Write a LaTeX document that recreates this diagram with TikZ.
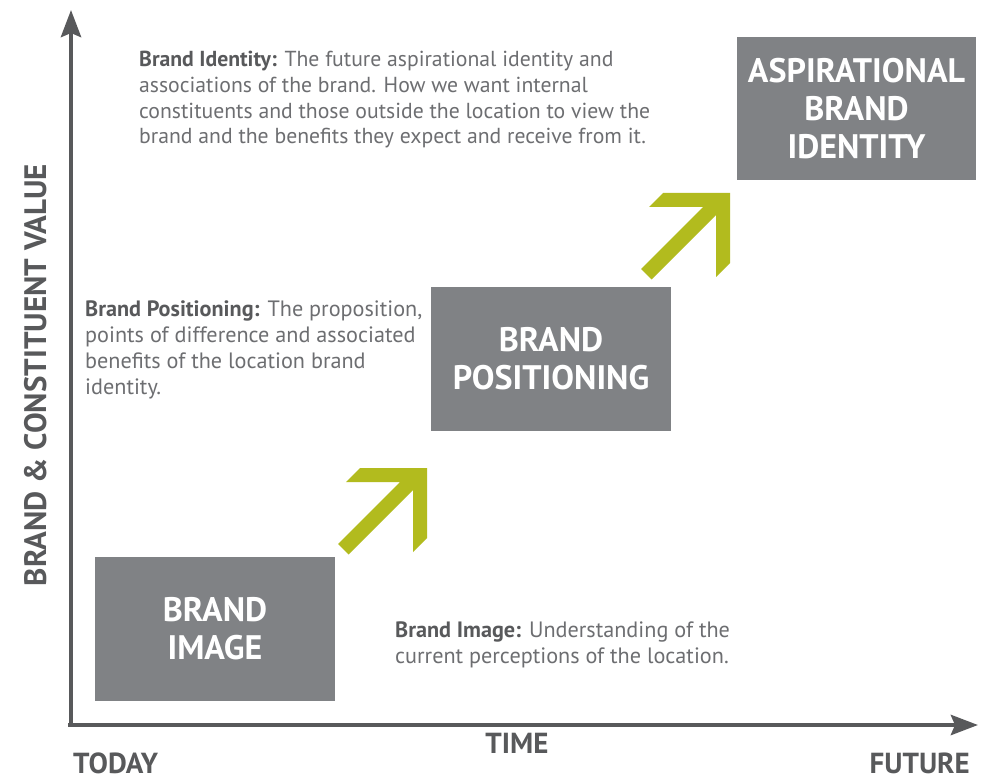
\documentclass[tikz,border=0pt]{standalone}
\usepackage{fontspec}
\setmainfont{PT Sans}
\usetikzlibrary{arrows.meta}
\definecolor{axisgray}{RGB}{88,89,91}
\definecolor{boxgray}{RGB}{128,130,133}
\definecolor{txtgray}{RGB}{109,110,113}
\definecolor{leafgreen}{RGB}{178,187,30}
\tikzset{
  axisline/.style={draw=axisgray, line width=4.5pt, -{Stealth[length=27pt 0 0, width=20pt 0 0, inset=4pt]}},
  stagebox/.style={fill=boxgray, text=white, minimum width=240pt, minimum height=144pt, inner sep=0pt,
    align=center, font=\fontsize{34}{38}\selectfont\bfseries},
  desc/.style={anchor=north west, inner sep=0pt, align=left, text=txtgray,
    font=\fontsize{22.2}{25.7}\selectfont},
  axislabel/.style={text=axisgray, inner sep=0pt, text depth=0pt, font=\fontsize{29}{30}\selectfont\bfseries},
  greenarrow/.style={fill=leafgreen, draw=none}
}
\newcommand{\bl}[1]{{\bfseries\color{axisgray}#1}}
\begin{document}
\begin{tikzpicture}[x=1pt, y=-1pt]
\useasboundingbox (0,0) rectangle (986,778);
\fill[white] (0,0) rectangle (986,778);
% axes
\coordinate (O) at (71,727);
\coordinate (ytop) at (71,10);
\coordinate (xstart) at (68,725);
\coordinate (xend) at (978,725);
\draw[axisline] (O) -- (ytop);
\draw[axisline] (xstart) -- (xend);
% boxes
\node[stagebox, minimum width=240pt, minimum height=144pt] (img) at (215,629) {BRAND\\IMAGE};
\node[stagebox, minimum width=240pt, minimum height=144pt] (pos) at (551,359) {BRAND\\POSITIONING};
\node[stagebox, minimum width=239pt, minimum height=143pt] (asp) at (856.5,108.5) {ASPIRATIONAL\\BRAND\\IDENTITY};
% green arrows
\foreach \cx/\cy in {427/468, 730/193}{
  \fill[greenarrow, shift={(\cx,\cy)}] (0,0) -- (0,70) -- (-14,84) -- (-14,22) -- (-78.5,86.5) -- (-89,76)
     -- (-27,14) -- (-81,14) -- (-67,0) -- cycle;
}
% descriptions
\node[desc, font=\fontsize{21.7}{25.7}\selectfont] (d1) at (139,51) {\bl{Brand Identity:} The future aspirational identity and\\
associations of the brand. How we want internal\\
constituents and those outside the location to view the\\
brand and the benefits they expect and receive from it.};
\node[desc] (d2) at (85,301) {\bl{Brand Positioning:} The proposition,\\
points of difference and associated\\
benefits of the location brand\\
identity.};
\node[desc] (d3) at (395,622) {\bl{Brand Image:} Understanding of the\\
current perceptions of the location.};
% axis labels
\node[axislabel, anchor=base west] (today) at (73,773) {TODAY};
\node[axislabel, anchor=base east] (future) at (970,773) {FUTURE};
\node[axislabel, anchor=base] (time) at (517,753) {TIME};
\node[axislabel, rotate=90, font=\fontsize{31}{32}\selectfont\bfseries] (val) at (35,375) {BRAND \& CONSTITUENT VALUE};
\end{tikzpicture}
\end{document}
